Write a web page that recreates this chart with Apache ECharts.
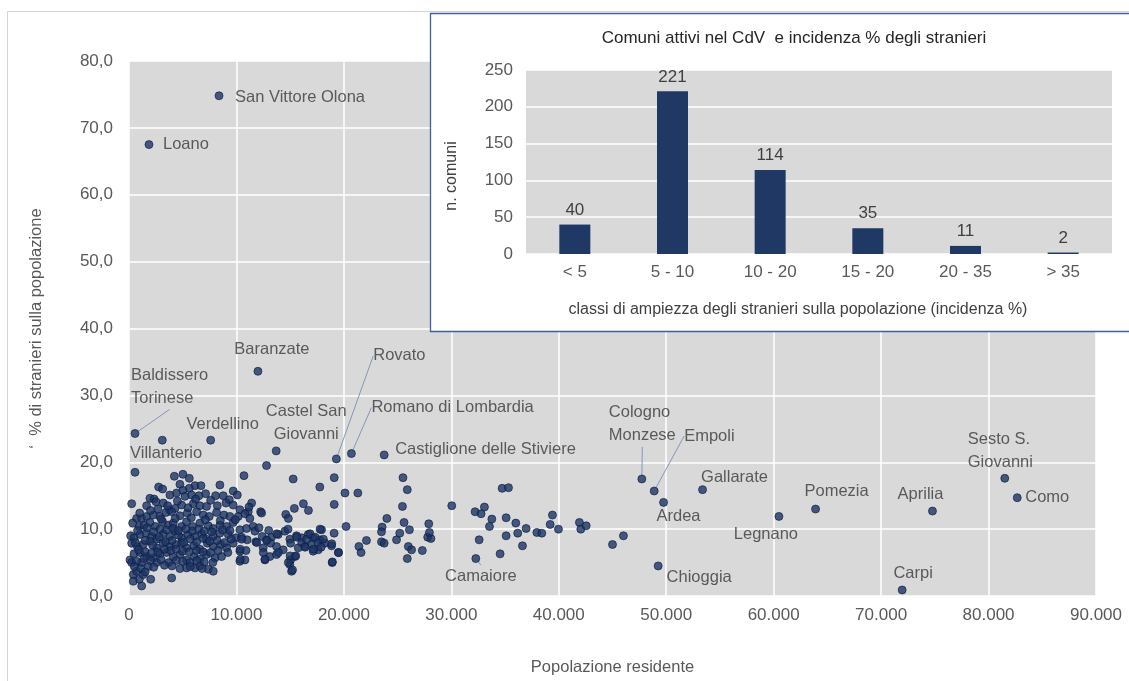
<!DOCTYPE html>
<html><head><meta charset="utf-8">
<script src="https://cdn.jsdelivr.net/npm/echarts@6/dist/echarts.min.js"></script>
<style>html,body{margin:0;padding:0;background:#fff}#c{width:1129px;height:681px}</style>
</head><body><div id="c"></div>
<script>
// ---- DATA ----
// unlabeled comuni: resident population and % of foreigners
const popolazione = [
3100,4220,5020,5610,10700,2760,3130,4740,6140,6700,5610,8460,9700,10080,
1950,2330,3810,4430,5020,5210,5830,6510,7130,8060,8770,9330,
250,1640,2510,3190,3750,4280,4900,5980,6600,7220,8220,9020,9700,10320,11100,11410,
710,1180,1640,2260,2880,3440,3970,4740,5430,6290,6910,7470,8150,8840,9390,10170,10790,11250,12250,12340,
340,960,1400,1950,2450,3130,3660,4120,4900,5360,5920,6600,7380,7840,8460,9080,9700,10320,10940,11560,11720,14510,
155,465,1020,1580,2110,2570,3190,3810,4280,4900,5460,6140,6760,7220,7840,8460,9240,9950,10480,11000,11810,12800,13270,13890,14970,15590,16060,16680,17140,17760,17920,
250,780,1330,1950,2570,3190,3810,4370,4900,5360,6050,6600,7290,7840,8530,9080,9700,12490,13180,13730,14350,15040,15750,16370,16990,17610,18230,18850,
90,465,1020,1640,2260,2880,3500,4120,4740,5360,6050,6600,7220,8000,8620,10320,10790,12650,13110,13730,15040,15440,17140,19500,
250,1180,1800,2570,4740,5360,6140,6600,7380,10320,14970,18910,
400,710,960,1330,2020,400,1180,3970,7840,15130,15220,
600,1500,2200,2800,3400,4000,4600,5100,5700,6300,6900,7500,8200,8900,9500,
800,1700,2300,2900,3500,4100,4600,5300,5900,6500,7000,7700,8700,9400,
900,1500,2100,2700,3300,3900,4400,5000,5600,6300,6900,7600,8300,9200,
700,1400,2000,3000,3700,4400,5000,5700,6300,7000,7800,
500,1100,1500,2300,3300,4000,5700,6800,
1000,2000,2700,3600,4500,5500,6200,7600,3000,4300,5800,7100,8500,9900,
12800,15280,17760,19100,20100,21300,19100,20200,16230,16700,15390,14590,14830,11170,
13750,14800,13900,14990,14830,19090,18870,19490,18930,15520,15610,16080,16390,16540,16850,17320,17620,17880,17170,18090,17780,12400,12100,13000,
10490,10890,11890,12500,12660,12820,10360,10340,
25500,25900,25450,24000,25600,23560,23500,23500,23750,24900,25200,26100,26000,26300,25900,27300,27900,27800,28100,22100,21400,21600,
30040,34730,35320,32210,32770,33080,33770,35100,36000,33550,36960,37960,38420,39410,39200,39970,36180,35100,36620,34540,32590,
41920,42050,42550,46020,45000,27960
];
const incidenza = [
23.3,17.9,18.2,17.6,18.0,16.3,16.0,16.7,16.5,16.5,16.1,16.6,15.7,15.1,
14.6,14.5,15.1,15.4,15.8,14.9,15.1,15.0,15.3,15.0,15.0,14.4,
13.8,13.5,14.1,13.9,12.9,13.1,13.6,13.8,13.5,13.4,13.5,13.9,13.6,12.9,12.6,13.9,
11.6,11.6,11.9,12.1,11.9,12.5,12.6,12.0,12.4,12.6,12.1,11.9,12.5,12.1,11.9,11.9,12.3,11.6,12.6,12.4,
10.9,10.4,10.6,11.0,10.4,11.1,10.6,10.9,10.4,11.1,10.4,10.9,10.5,10.1,10.6,10.4,11.0,9.9,10.1,10.4,9.7,9.7,
9.0,8.7,9.2,9.4,8.9,8.5,9.3,8.9,9.7,8.7,9.2,8.9,9.3,8.5,8.9,9.4,9.2,8.7,8.8,8.4,8.1,8.4,8.8,9.2,8.5,9.0,8.7,9.2,8.7,8.4,9.9,
7.9,7.4,7.7,8.2,7.2,7.9,7.4,7.7,7.9,7.2,7.5,7.0,7.9,7.4,7.7,7.2,7.9,7.2,7.9,7.4,6.9,7.9,7.2,7.4,7.7,6.9,7.9,7.5,
5.4,6.3,6.5,5.9,5.7,6.3,6.5,5.8,6.2,5.4,5.9,5.5,6.2,5.7,5.9,6.7,5.4,5.4,5.9,6.2,5.4,5.9,6.7,6.5,
5.0,5.0,4.4,5.0,4.1,4.2,4.2,4.5,4.0,5.2,4.7,5.0,
3.2,3.7,2.5,3.2,2.5,2.2,1.5,2.7,3.7,3.7,3.9,
8.0,8.3,7.6,8.8,8.1,8.3,9.1,8.0,8.5,8.1,8.6,8.2,8.3,8.0,8.5,
9.8,10.2,9.6,10.0,9.9,10.1,9.8,10.0,9.7,10.0,9.7,9.6,9.9,9.8,
6.9,6.6,6.4,6.6,7.0,6.8,7.0,6.7,6.6,6.8,6.6,6.5,6.8,6.5,
5.2,5.6,5.3,5.4,5.0,5.3,5.2,5.0,5.3,5.1,5.0,
4.4,4.1,3.6,4.3,4.6,4.5,4.4,4.1,
12.4,12.8,13.0,13.5,14.2,13.2,14.5,14.3,11.5,11.6,11.7,11.4,11.3,11.4,
19.5,17.5,16.3,17.7,15.4,15.4,13.7,10.4,13.8,12.8,13.1,12.2,11.6,13.3,
9.3,10.0,6.5,6.0,5.0,9.4,7.8,6.5,5.1,6.0,8.8,8.0,7.3,8.5,9.3,8.8,8.0,7.3,7.0,8.5,10.0,8.9,10.2,9.8,
8.5,6.8,8.0,6.5,5.5,8.3,5.5,7.0,
17.7,15.9,13.4,11.6,11.0,10.3,9.6,8.1,7.9,8.4,9.4,9.9,7.4,6.9,5.6,6.8,10.8,8.8,8.6,8.3,7.4,6.5,
13.5,16.1,16.2,12.6,12.3,13.3,11.5,11.7,10.9,10.4,10.1,9.5,9.4,12.1,10.7,10.0,9.4,9.0,7.5,6.3,8.4,
11.0,10.0,10.5,9.0,7.7,9.5
];
// labeled comuni
const nomiComuni = ['San Vittore Olona','Loano','Baranzate','Baldissero\nTorinese','Villanterio','Verdellino',
  'Castel San\nGiovanni','Rovato','Romano di Lombardia','Castiglione delle Stiviere','Camaiore','Cologno\nMonzese',
  'Empoli','Ardea','Chioggia','Gallarate','Legnano','Pomezia','Carpi','Aprilia','Sesto S.\nGiovanni','Como'];
const popComuni = [8380,1860,12000,560,560,7600,13700,19300,20700,23750,32280,47730,48880,49750,49250,53380,60490,63900,71960,74780,81510,82670];
const incComuni = [74.8,67.5,33.6,24.3,18.5,23.3,21.7,20.5,21.3,21.1,5.6,17.5,15.7,14.0,4.5,15.9,11.9,13.0,0.9,12.7,17.6,14.7];

// inset bar chart
const classi = ['< 5','5 - 10','10 - 20','15 - 20','20 - 35','> 35'];
const nComuni = [40,221,114,35,11,2];

// axes ticks
const xMin = 0, xMax = 90000, xStep = 10000;
const yMin = 0, yMax = 80, yStep = 10;
const barMin = 0, barMax = 250, barStep = 50;

// ---- STYLE (label placement offsets) ----
const labelPlace = {
  'San Vittore Olona': {align:'left', dx:16, dy:2},
  'Loano': {align:'left', dx:14, dy:0},
  'Baranzate': {align:'center', dx:14, dy:-22},
  'Baldissero\nTorinese': {align:'left', dx:-4, dy:-47, line:true},
  'Villanterio': {align:'left', dx:-5, dy:-19},
  'Verdellino': {align:'center', dx:12, dy:-16},
  'Castel San\nGiovanni': {align:'center', dx:30, dy:-28},
  'Rovato': {align:'center', dx:63, dy:-103, line:true},
  'Romano di Lombardia': {align:'left', dx:20, dy:-46, line:true},
  'Castiglione delle Stiviere': {align:'left', dx:11, dy:-5},
  'Camaiore': {align:'center', dx:5, dy:18, line:true},
  'Cologno\nMonzese': {align:'left', dx:-33, dy:-55, line:true},
  'Empoli': {align:'left', dx:30, dy:-55, line:true},
  'Ardea': {align:'center', dx:15, dy:14},
  'Chioggia': {align:'center', dx:41, dy:12},
  'Gallarate': {align:'center', dx:32, dy:-12},
  'Legnano': {align:'center', dx:-13, dy:18},
  'Pomezia': {align:'center', dx:21, dy:-18},
  'Carpi': {align:'center', dx:11, dy:-17},
  'Aprilia': {align:'center', dx:-12, dy:-17},
  'Sesto S.\nGiovanni': {align:'left', dx:-37, dy:-27},
  'Como': {align:'left', dx:8, dy:0}
};

const FONT = 'Liberation Sans, Arial, sans-serif';
const dotStyle = {color:'#1c3566', borderColor:'#0b1a3a', borderWidth:0.8};
const plainPts = popolazione.map((p,i)=>[p, incidenza[i]]);
const withLine = [], noLine = [];
nomiComuni.forEach((n,i)=>{
  const s = labelPlace[n];
  const item = {name:n, value:[popComuni[i], incComuni[i]],
    label:{align:s.align}};
  (s.line ? withLine : noLine).push(item);
});
function layoutFor(list){
  return function(params){
    const s = labelPlace[list[params.dataIndex].name];
    return {dx:s.dx, dy:s.dy};
  };
}
const labelBase = {show:true, position:'inside', formatter:'{b}', color:'#383838',
  fontSize:16.5, fontFamily:FONT, lineHeight:23, verticalAlign:'middle'};

const chart = echarts.init(document.getElementById('c'), null, {renderer:'canvas'});
chart.setOption({
  animation:false,
  backgroundColor:'#fff',
  grid:[
    {left:129, right:33, top:61, bottom:84, show:true, backgroundColor:'#d9d9d9', borderWidth:0, z:0},
    {left:526, right:17, top:70, bottom:427, show:true, backgroundColor:'#d9d9d9', borderWidth:0, z:60}
  ],
  xAxis:[
    {type:'value', gridIndex:0, min:xMin, max:xMax, interval:xStep,
     name:'Popolazione residente', nameLocation:'middle', nameGap:63,
     nameTextStyle:{color:'#595959', fontSize:16.5, fontFamily:FONT},
     axisLine:{show:false}, axisTick:{show:false},
     axisLabel:{color:'#595959', fontSize:17, fontFamily:FONT, margin:11,
       formatter:v=>String(v).replace(/\B(?=(\d{3})+(?!\d))/g,'.')},
     splitLine:{show:true, lineStyle:{color:'#ffffff', width:1.5}}},
    {type:'category', gridIndex:1, data:classi, z:61,
     axisLine:{show:false}, axisTick:{show:false},
     axisLabel:{color:'#595959', fontSize:17, fontFamily:FONT, margin:10},
     splitLine:{show:false}}
  ],
  yAxis:[
    {type:'value', gridIndex:0, min:yMin, max:yMax, interval:yStep,
     name:'‘  % di stranieri sulla popolazione', nameLocation:'middle', nameGap:84, nameRotate:90,
     nameTextStyle:{color:'#595959', fontSize:16.5, fontFamily:FONT},
     axisLine:{show:false}, axisTick:{show:false},
     axisLabel:{color:'#595959', fontSize:17, fontFamily:FONT, margin:16,
       formatter:v=>v.toFixed(1).replace('.',',')},
     splitLine:{show:true, lineStyle:{color:'#ffffff', width:1.5}}},
    {type:'value', gridIndex:1, min:barMin, max:barMax, interval:barStep, z:61,
     axisLine:{show:false}, axisTick:{show:false},
     axisLabel:{color:'#595959', fontSize:17, fontFamily:FONT, margin:13},
     splitLine:{show:true, lineStyle:{color:'#ffffff', width:1.5}}}
  ],
  graphic:[
    {type:'rect', z:1, silent:true, shape:{x:7.5, y:11.5, width:1200, height:720},
     style:{fill:'none', stroke:'#d4d4d4', lineWidth:1}},
    {type:'rect', z:50, silent:true, shape:{x:430.5, y:13.5, width:760, height:318},
     style:{fill:'#ffffff', stroke:'#3f5f95', lineWidth:1.3}},
    {type:'text', z:70, silent:true, x:794, y:38,
     style:{text:'Comuni attivi nel CdV  e incidenza % degli stranieri', fill:'#262626',
       font:'17px '+FONT, align:'center', verticalAlign:'middle', textAlign:'center', textVerticalAlign:'middle'}},
    {type:'text', z:70, silent:true, x:798, y:310,
     style:{text:'classi di ampiezza degli stranieri sulla popolazione (incidenza %)', fill:'#404040',
       font:'16px '+FONT, align:'center', verticalAlign:'middle', textAlign:'center', textVerticalAlign:'middle'}},
    {type:'text', z:70, silent:true, x:452, y:176, rotation:Math.PI/2,
     style:{text:'n. comuni', fill:'#404040',
       font:'16px '+FONT, align:'center', verticalAlign:'middle', textAlign:'center', textVerticalAlign:'middle'}}
  ],
  series:[
    {type:'scatter', xAxisIndex:0, yAxisIndex:0, data:plainPts, symbolSize:8, itemStyle:dotStyle, z:2},
    {type:'scatter', xAxisIndex:0, yAxisIndex:0, data:noLine, symbolSize:8, itemStyle:dotStyle, z:3,
     label:labelBase, labelLayout:layoutFor(noLine)},
    {type:'scatter', xAxisIndex:0, yAxisIndex:0, data:withLine, symbolSize:8, itemStyle:dotStyle, z:3,
     label:labelBase, labelLayout:layoutFor(withLine),
     labelLine:{show:true, length2:0, lineStyle:{color:'#8497b8', width:1}}},
    {type:'bar', xAxisIndex:1, yAxisIndex:1, data:nComuni, barWidth:31, z:62,
     itemStyle:{color:'#203864'},
     label:{show:true, position:'top', distance:6, color:'#404040', fontSize:17, fontFamily:FONT}}
  ]
});
</script></body></html>
